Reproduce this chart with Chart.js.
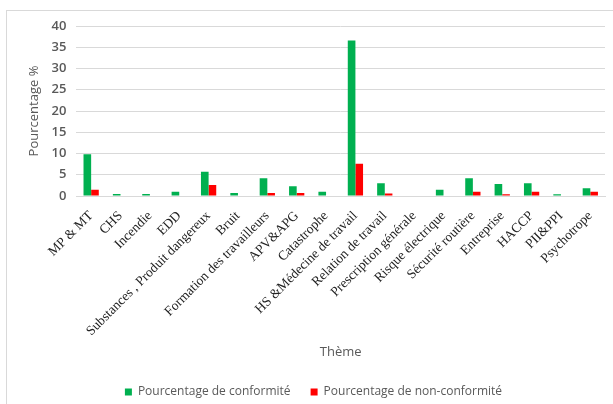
<!DOCTYPE html>
<html>
<head>
<meta charset="utf-8">
<script src="https://cdn.jsdelivr.net/npm/chart.js@4/dist/chart.umd.min.js"></script>
<style>
  html, body { margin: 0; padding: 0; background: #fff; }
  #wrap { position: relative; width: 613px; height: 404px; }
  #frame { position: absolute; left: 6px; top: 10px; right: 0; bottom: 0;
           border-top: 1px solid #d9d9d9; border-left: 1px solid #d9d9d9; }
  canvas { position: absolute; left: 0; top: 0; }
</style>
</head>
<body>
<div id="wrap">
  <div id="frame"></div>
  <canvas id="themeChart" width="613" height="404"></canvas>
</div>
<script>
// Thèmes et pourcentages
var themes = ['MP & MT', 'CHS', 'Incendie', 'EDD', 'Substances , Produit dangereux', 'Bruit',
  'Formation des travailleurs', 'APV&APG', 'Catastrophe', 'HS &Médecine de travail',
  'Relation de travail', 'Prescription générale', 'Risque électrique', 'Sécurité routière',
  'Entreprise', 'HACCP', 'PII&PPI', 'Psychotrope'];
var conformite = [9.8, 0.5, 0.5, 1.0, 5.7, 0.7, 4.2, 2.3, 1.0, 36.6, 3.0, 0, 1.5, 4.2, 2.8, 3.0, 0.4, 1.8];
var nonConformite = [1.5, 0, 0, 0, 2.6, 0, 0.7, 0.7, 0, 7.6, 0.6, 0, 0, 1.0, 0.4, 1.0, 0, 1.0];
var yTicks = [0, 5, 10, 15, 20, 25, 30, 35, 40];

var ctx = document.getElementById('themeChart').getContext('2d');
var themeChart = new Chart(ctx, {
  type: 'bar',
  data: {
    labels: themes,
    datasets: [{
      label: 'Pourcentage de conformité',
      data: conformite,
      backgroundColor: '#00b050'
    }, {
      label: 'Pourcentage de non-conformité',
      data: nonConformite,
      backgroundColor: '#ff0000'
    }]
  },
  options: {
    responsive: false,
    animation: false,
    // negative bottom pushes the wide-spaced legend down to the edge
    layout: { padding: { left: 22, top: 26, right: 8, bottom: -4 } },
    datasets: {
      bar: { categoryPercentage: 0.52, barPercentage: 1.0 }
    },
    scales: {
      x: {
        grid: { display: false },
        border: { color: '#d9d9d9', width: 1 },
        // rotated labels get a fixed band so the plot keeps its height
        afterFit: function (scale) { scale.height = 170; },
        ticks: {
          autoSkip: false,
          minRotation: 45,
          maxRotation: 45,
          color: '#222',
          padding: 4,
          font: { family: '"Liberation Serif", "Times New Roman", serif', size: 13.5 }
        },
        title: {
          display: true,
          text: 'Thème',
          color: '#595959',
          padding: { top: 4, bottom: 6 },
          font: { family: '"Open Sans", Calibri, sans-serif', size: 13 }
        }
      },
      y: {
        min: 0,
        max: 40,
        afterBuildTicks: function (axis) {
          axis.ticks = yTicks.map(function (v) { return { value: v }; });
        },
        grid: { color: '#d9d9d9', lineWidth: 1, drawTicks: false },
        border: { display: false },
        ticks: {
          autoSkip: false,
          color: '#595959',
          padding: 10,
          font: { family: '"Open Sans", Calibri, sans-serif', size: 13, weight: '600' }
        },
        title: {
          display: true,
          text: 'Pourcentage %',
          color: '#595959',
          padding: { bottom: 0 },
          font: { family: '"Open Sans", Calibri, sans-serif', size: 13 }
        }
      }
    },
    plugins: {
      legend: {
        position: 'bottom',
        labels: {
          boxWidth: 7,
          boxHeight: 7,
          padding: 20,
          color: '#595959',
          font: { family: '"Open Sans", Calibri, sans-serif', size: 12 }
        }
      },
      tooltip: { enabled: false }
    }
  }
});
</script>
</body>
</html>
